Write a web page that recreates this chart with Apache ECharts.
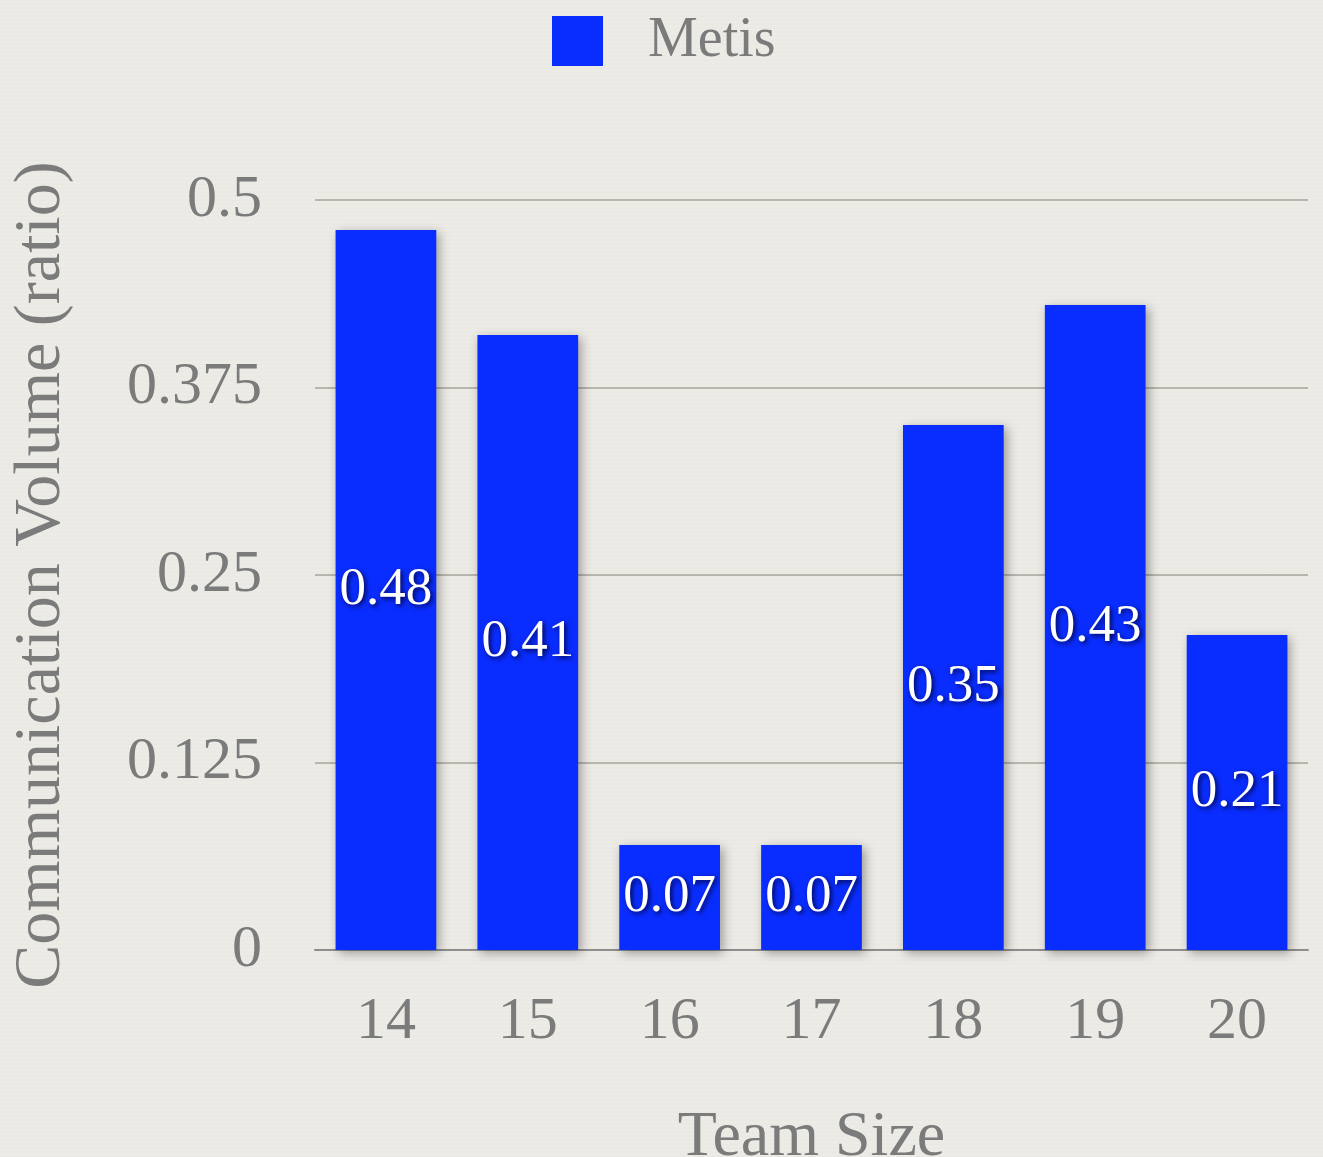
<!DOCTYPE html>
<html>
<head>
<meta charset="utf-8">
<script src="https://cdn.jsdelivr.net/npm/echarts@6/dist/echarts.min.js"></script>
<style>
  html, body { margin: 0; padding: 0; }
  body {
    width: 1323px; height: 1157px; overflow: hidden;
    background-color: #ecebe6;
    background-image: repeating-linear-gradient(0deg, rgba(0,0,0,0.012) 0px, rgba(0,0,0,0.012) 1px, rgba(255,255,255,0.02) 2px, rgba(255,255,255,0.02) 4px);
  }
  #chart { width: 1323px; height: 1157px; }
</style>
</head>
<body>
<div id="chart"></div>
<script>
// Team sizes on the x axis
const teamSizes = ['14', '15', '16', '17', '18', '19', '20'];
// Metis communication volume ratio per team size
const metisVolume = [0.48, 0.41, 0.07, 0.07, 0.35, 0.43, 0.21];
// Y axis ticks
const yTicks = [0, 0.125, 0.25, 0.375, 0.5];

const serif = '"Liberation Serif", "DejaVu Serif", serif';
const grey = '#7b7b7b';

const chart = echarts.init(document.getElementById('chart'), null, { renderer: 'canvas' });

chart.setOption({
  backgroundColor: 'transparent',
  animation: false,
  legend: {
    top: 8,
    left: 547,
    itemWidth: 51,
    itemHeight: 50,
    itemGap: 20,
    icon: 'rect',
    textStyle: { fontFamily: serif, fontSize: 56, color: grey, padding: [0, 0, 0, 40] },
    data: ['Metis']
  },
  grid: { left: 315, right: 15, top: 200, bottom: 207, containLabel: false, outerBoundsMode: 'none' },
  xAxis: {
    type: 'category',
    data: teamSizes,
    name: 'Team Size',
    nameLocation: 'middle',
    nameGap: 156,
    nameTextStyle: { fontFamily: serif, fontSize: 64, color: grey },
    axisLine: { lineStyle: { color: '#8e8e8e', width: 2 } },
    axisTick: { show: false },
    axisLabel: { fontFamily: serif, fontSize: 60, color: grey, margin: 42 }
  },
  yAxis: {
    type: 'value',
    min: yTicks[0],
    max: yTicks[yTicks.length - 1],
    interval: yTicks[1] - yTicks[0],
    name: 'Communication Volume (ratio)',
    nameLocation: 'middle',
    nameGap: 240,
    nameRotate: 90,
    nameTextStyle: { fontFamily: serif, fontSize: 66, color: grey },
    axisLine: { show: false },
    axisTick: { show: false },
    axisLabel: { fontFamily: serif, fontSize: 60, color: grey, margin: 53 },
    splitLine: { lineStyle: { color: '#b8b5af', width: 2 } }
  },
  series: [{
    name: 'Metis',
    type: 'bar',
    data: metisVolume,
    barWidth: '71%',
    itemStyle: {
      color: '#0a2dff',
      shadowColor: 'rgba(0,0,0,0.35)',
      shadowBlur: 10,
      shadowOffsetX: 3,
      shadowOffsetY: 3
    },
    label: {
      show: true,
      position: 'inside',
      fontFamily: serif,
      fontSize: 53,
      color: '#ffffff',
      textShadowColor: 'rgba(0,0,40,0.85)',
      textShadowBlur: 5,
      textShadowOffsetX: 2,
      textShadowOffsetY: 2
    }
  }]
});
</script>
</body>
</html>
